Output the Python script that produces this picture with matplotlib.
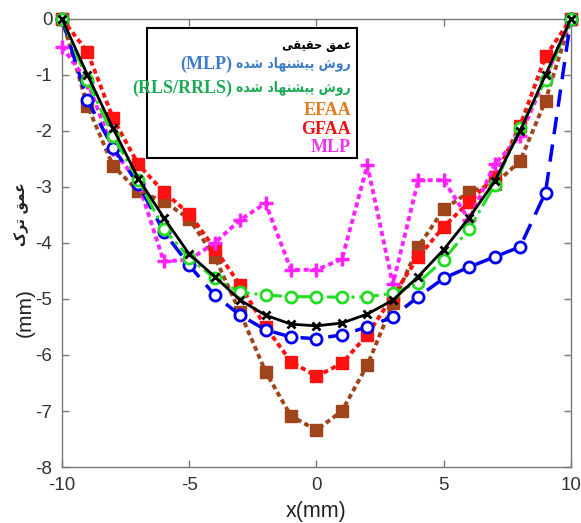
import numpy as np
import matplotlib
matplotlib.use("Agg")
import matplotlib.pyplot as plt
from matplotlib.patches import Rectangle

plt.rcParams['axes.unicode_minus'] = False

# crack profile along the scan line, depth in mm
x = np.arange(-10, 11)
true_depth = [0, -1.0, -1.95, -2.85, -3.55, -4.2, -4.6, -5.02, -5.29, -5.45, -5.48,
              -5.43, -5.27, -5.02, -4.6, -4.12, -3.55, -2.9, -2.0, -1.0, 0]
mlp_proposed = [0, -1.45, -2.3, -2.95, -3.8, -4.4, -4.93, -5.29, -5.55, -5.68, -5.71,
                -5.64, -5.5, -5.32, -4.96, -4.63, -4.43, -4.25, -4.07, -3.1, 0]
rls_proposed = [0, -1.1, -2.09, -2.88, -3.75, -4.27, -4.63, -4.88, -4.93, -4.96, -4.96,
                -4.97, -4.96, -4.9, -4.71, -4.3, -3.75, -2.97, -1.95, -1.09, 0]
efaa = [0, -1.55, -2.62, -3.08, -3.26, -3.57, -4.25, -5.24, -6.3, -7.09, -7.34,
        -7.0, -6.18, -5.08, -4.07, -3.4, -3.09, -2.95, -2.54, -1.46, 0]
gfaa = [0, -0.59, -1.77, -2.6, -3.09, -3.48, -4.1, -4.75, -5.5, -6.12, -6.38,
        -6.15, -5.64, -4.95, -4.25, -3.71, -3.27, -2.82, -1.91, -0.67, 0]
mlp = [-0.5, -1.12, -2.33, -2.93, -4.33, -4.3, -4.0, -3.59, -3.29, -4.48, -4.48,
       -4.29, -2.61, -4.74, -2.88, -2.88, -3.59, -2.6, -2.09, -1.05, 0]

xticks = [-10, -5, 0, 5, 10]
yticks = [0, -1, -2, -3, -4, -5, -6, -7, -8]

# contextual forms: isolated, final, initial, medial
FORMS = {
    'ا': ('\ufe8d', '\ufe8e', None, None),
    'د': ('\ufea9', '\ufeaa', None, None),
    'ر': ('\ufead', '\ufeae', None, None),
    'و': ('\ufeed', '\ufeee', None, None),
    'ع': ('\ufec9', '\ufeca', '\ufecb', '\ufecc'),
    'م': ('\ufee1', '\ufee2', '\ufee3', '\ufee4'),
    'ق': ('\ufed5', '\ufed6', '\ufed7', '\ufed8'),
    'ح': ('\ufea1', '\ufea2', '\ufea3', '\ufea4'),
    'ی': ('\ufeef', '\ufef0', '\ufef3', '\ufef4'),
    'ش': ('\ufeb5', '\ufeb6', '\ufeb7', '\ufeb8'),
    'پ': ('\ufb56', '\ufb57', '\ufb58', '\ufb59'),
    'ن': ('\ufee5', '\ufee6', '\ufee7', '\ufee8'),
    'ه': ('\ufee9', '\ufeea', '\ufeeb', '\ufeec'),
    'ت': ('\ufe95', '\ufe96', '\ufe97', '\ufe98'),
    'ک': ('\ufb8e', '\ufb8f', '\ufb90', '\ufb91'),
}


def fa(text):
    # join letters and flip to visual (left-to-right) order
    out = []
    for i, ch in enumerate(text):
        if ch not in FORMS:
            out.append(ch)
            continue
        prev = text[i - 1] if i > 0 else None
        nxt = text[i + 1] if i + 1 < len(text) else None
        iso, fin, ini, med = FORMS[ch]
        jp = prev in FORMS and FORMS[prev][2] is not None
        jn = nxt in FORMS and ini is not None
        if jp and jn:
            out.append(med)
        elif jp:
            out.append(fin)
        elif jn:
            out.append(ini)
        else:
            out.append(iso)
    return ''.join(reversed(out))


# key entries: (persian part, latin part)
key_fa = [fa('عمق حقیقی'), fa('روش پیشنهاد شده'), fa('روش پیشنهاد شده'), '', '', '']
key_en = ['', '(MLP)', '(RLS/RRLS)', 'EFAA', 'GFAA', 'MLP']
key_colors = ['black', '#3d7cc9', '#1daa55', '#e07b1f', '#ee1111', '#ee33ee']
key_fa_size = [9, 10, 10, 0, 0, 0]

dots = (0, (1.3, 0.9))

fig = plt.figure(figsize=(5.81, 5.23), dpi=100)
ax = fig.add_axes([0.1067, 0.107, 0.876, 0.857])

ax.plot(x, true_depth, '-', color='black', lw=2, marker='x', ms=6, mew=2,
        clip_on=False, zorder=6)
ax.plot(x, mlp_proposed, '--', color='#0000ee', lw=2.5, marker='o', ms=8, mew=2,
        mfc='white', dashes=(5, 3), clip_on=False, zorder=5)
ax.plot(x, rls_proposed, '-.', color='#22dd22', lw=2.2, marker='o', ms=8, mew=2,
        mfc='white', clip_on=False, zorder=5)
ax.plot(x, efaa, ls=dots, color='#a0441c', lw=2.8, marker='s', ms=8.5,
        clip_on=False, zorder=4)
ax.plot(x, gfaa, ls=dots, color='#ff1111', lw=2.8, marker='s', ms=8.5,
        clip_on=False, zorder=4)
ax.plot(x, mlp, ls=dots, color='#ff22ff', lw=2.8, marker='+', ms=10, mew=2.5,
        clip_on=False, zorder=4)

ax.set_xlim(-10, 10)
ax.set_ylim(-8, 0)
ax.set_xticks(xticks)
ax.set_yticks(yticks)
ax.tick_params(direction='in', top=True, right=True, length=5, width=1,
               color='#777777', labelsize=13.5, labelcolor='#333333', pad=7)
for lab in ax.get_xticklabels() + ax.get_yticklabels():
    lab.set_family('Liberation Sans')
for sp in ax.spines.values():
    sp.set_color('#777777')
    sp.set_linewidth(1)

ax.set_xlabel('x(mm)', fontsize=15.5, family='Liberation Sans', color='#222222',
              labelpad=5)
# y label: unit in plain sans, persian title in bold above it
ax.text(-0.072, 0.345, '(mm)', transform=ax.transAxes, rotation=90,
        ha='center', va='center', fontsize=15, family='Liberation Sans',
        color='#222222')
ax.text(-0.08, 0.565, fa('عمق ترک'), transform=ax.transAxes, rotation=90,
        ha='center', va='center', fontsize=11, fontweight='bold',
        family='DejaVu Sans', fontstretch='condensed', color='#222222')

# boxed key with coloured labels
ax.add_patch(Rectangle((0.167, 0.69), 0.413, 0.29, transform=ax.transAxes,
                       facecolor='white', edgecolor='black', lw=1.5, zorder=8))
ys = [0.94, 0.9, 0.846, 0.795, 0.754, 0.714]
for txt_fa, txt_en, col, yy, fs in zip(key_fa, key_en, key_colors, ys, key_fa_size):
    if txt_fa:
        t = ax.text(0.568, yy, txt_fa, transform=ax.transAxes, ha='right',
                    va='center', color=col, fontsize=fs, fontweight='bold',
                    family='DejaVu Sans', fontstretch='condensed', zorder=9)
        if txt_en:
            ax.annotate(txt_en, xy=(0, 0.45), xycoords=t, xytext=(-3, 0),
                        textcoords='offset points', ha='right', va='center',
                        color=col, fontsize=13, fontweight='bold',
                        family='Liberation Serif', zorder=9)
    else:
        ax.text(0.568, yy, txt_en, transform=ax.transAxes, ha='right',
                va='center', color=col, fontsize=13, fontweight='bold',
                family='Liberation Serif', zorder=9)

fig.savefig('out.png', dpi=100)
